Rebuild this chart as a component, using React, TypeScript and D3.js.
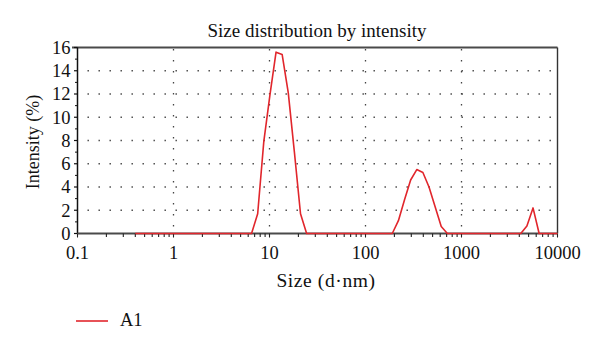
import React from "react";
import * as d3 from "d3";

const sizes: number[] = [
  0.4, 0.4632, 0.5365, 0.6213, 0.7195, 0.8332, 0.9649, 1.117, 1.294, 1.499,
  1.736, 2.01, 2.328, 2.696, 3.122, 3.615, 4.187, 4.849, 5.615, 6.503,
  7.531, 8.721, 10.1, 11.7, 13.54, 15.69, 18.17, 21.04, 24.36, 28.21,
  32.67, 37.84, 43.82, 50.75, 58.77, 68.06, 78.82, 91.28, 105.7, 122.4,
  141.8, 164.2, 190.1, 220.2, 255.0, 295.3, 342.0, 396.1, 458.7, 531.2,
  615.1, 712.4, 825.0, 955.4, 1106, 1281, 1484, 1718, 1990, 2305,
  2669, 3091, 3580, 4145, 4801, 5560, 6439, 7456, 8635, 10000,
];

const intensityA1: number[] = [
  0, 0, 0, 0, 0, 0, 0, 0, 0, 0,
  0, 0, 0, 0, 0, 0, 0, 0, 0, 0,
  1.7, 7.9, 11.9, 15.6, 15.4, 12.1, 7.0, 1.7, 0, 0,
  0, 0, 0, 0, 0, 0, 0, 0, 0, 0,
  0, 0, 0, 1.1, 2.9, 4.6, 5.5, 5.25, 4.0, 2.3,
  0.6, 0, 0, 0, 0, 0, 0, 0, 0, 0,
  0, 0, 0, 0, 0.65, 2.2, 0, 0, 0, 0,
];

const xTickValues: number[] = [0.1, 1, 10, 100, 1000, 10000];
const xTickLabels: string[] = ["0.1", "1", "10", "100", "1000", "10000"];
const yTickValues: number[] = [0, 2, 4, 6, 8, 10, 12, 14, 16];
const xGridValues: number[] = [1, 10, 100, 1000];
const yGridValues: number[] = [2, 4, 6, 8, 10, 12, 14];

const title = "Size distribution by intensity";
const xTitle = "Size (d·nm)";
const yTitle = "Intensity (%)";
const seriesName = "A1";

const W = 600;
const H = 353;
const left = 77.5;
const right = 557.5;
const top = 47.5;
const bottom = 233.5;
const font = "'Liberation Serif', 'DejaVu Serif', serif";
const red = "#e1262c";

export default function App() {
  const x = d3.scaleLog().domain([0.1, 10000]).range([left, right]);
  const y = d3.scaleLinear().domain([0, 16]).range([bottom, top]);

  const line = d3
    .line<number>()
    .x((_, i) => x(sizes[i]))
    .y((d) => y(d));

  const minorX: number[] = [];
  for (let e = -1; e < 4; e++) {
    for (let m = 2; m <= 9; m++) minorX.push(m * Math.pow(10, e));
  }
  const minorY: number[] = d3.range(1, 16, 2);

  return (
    <svg
      width={W}
      height={H}
      style={{ position: "absolute", left: 0, top: 0, background: "#fff" }}
      fontFamily={font}
    >
      <rect x={0} y={0} width={W} height={H} fill="#fff" />
      {/* title */}
      <text x={317} y={37} fontSize={19} textAnchor="middle" fill="#111">
        {title}
      </text>

      {/* grid */}
      {yGridValues.map((v) => (
        <line
          key={"gy" + v}
          x1={left + 10}
          x2={right - 2}
          y1={y(v)}
          y2={y(v)}
          stroke="#444"
          strokeWidth={1.3}
          strokeDasharray="1.4 9.6"
        />
      ))}
      {xGridValues.map((v) => (
        <line
          key={"gx" + v}
          x1={x(v)}
          x2={x(v)}
          y1={top + 1.5}
          y2={bottom - 1}
          stroke="#444"
          strokeWidth={1.3}
          strokeDasharray="1.4 9.6"
        />
      ))}

      {/* frame */}
      <line x1={72} x2={right} y1={top} y2={top} stroke="#4a4a4a" strokeWidth={2.2} />
      <line x1={right} x2={right} y1={top} y2={bottom} stroke="#333" strokeWidth={1.4} />
      <line x1={left} x2={left} y1={top} y2={bottom} stroke="#111" strokeWidth={1.5} />

      {/* y ticks */}
      {yTickValues.map((v) => (
        <g key={"yt" + v}>
          <line x1={left - 3.5} x2={left} y1={y(v)} y2={y(v)} stroke="#111" strokeWidth={1.2} />
          <text
            x={70.5}
            y={y(v) + 6.3}
            fontSize={18.5}
            textAnchor="end"
            fill="#111"
          >
            {v}
          </text>
        </g>
      ))}
      {minorY.map((v) => (
        <line key={"ym" + v} x1={left - 2.5} x2={left} y1={y(v)} y2={y(v)} stroke="#111" strokeWidth={1} />
      ))}

      {/* x axis */}
      <line x1={left} x2={right} y1={bottom} y2={bottom} stroke="#4a4a4a" strokeWidth={2} />
      {minorX.map((v) => (
        <line key={"xm" + v} x1={x(v)} x2={x(v)} y1={bottom} y2={bottom + 3.5} stroke="#222" strokeWidth={1.1} />
      ))}
      {xTickValues.map((v, i) => (
        <g key={"xt" + v}>
          <line x1={x(v)} x2={x(v)} y1={bottom} y2={bottom + 4} stroke="#222" strokeWidth={1.1} />
          <text x={x(v)} y={258.5} fontSize={18.5} textAnchor="middle" fill="#111">
            {xTickLabels[i]}
          </text>
        </g>
      ))}

      {/* data */}
      <path d={line(intensityA1) || ""} fill="none" stroke={red} strokeWidth={1.6} strokeLinejoin="round" />

      {/* axis titles */}
      <text x={326} y={287} fontSize={19.5} textAnchor="middle" fill="#111" letterSpacing={0.6}>
        {xTitle}
      </text>
      <text
        transform={`translate(38.5,142) rotate(-90)`}
        fontSize={18}
        textAnchor="middle"
        fill="#111"
      >
        {yTitle}
      </text>

      {/* legend */}
      <line x1={76} x2={108} y1={321} y2={321} stroke={red} strokeWidth={1.6} />
      <text x={120} y={326} fontSize={18.5} fill="#111">
        {seriesName}
      </text>
    </svg>
  );
}
